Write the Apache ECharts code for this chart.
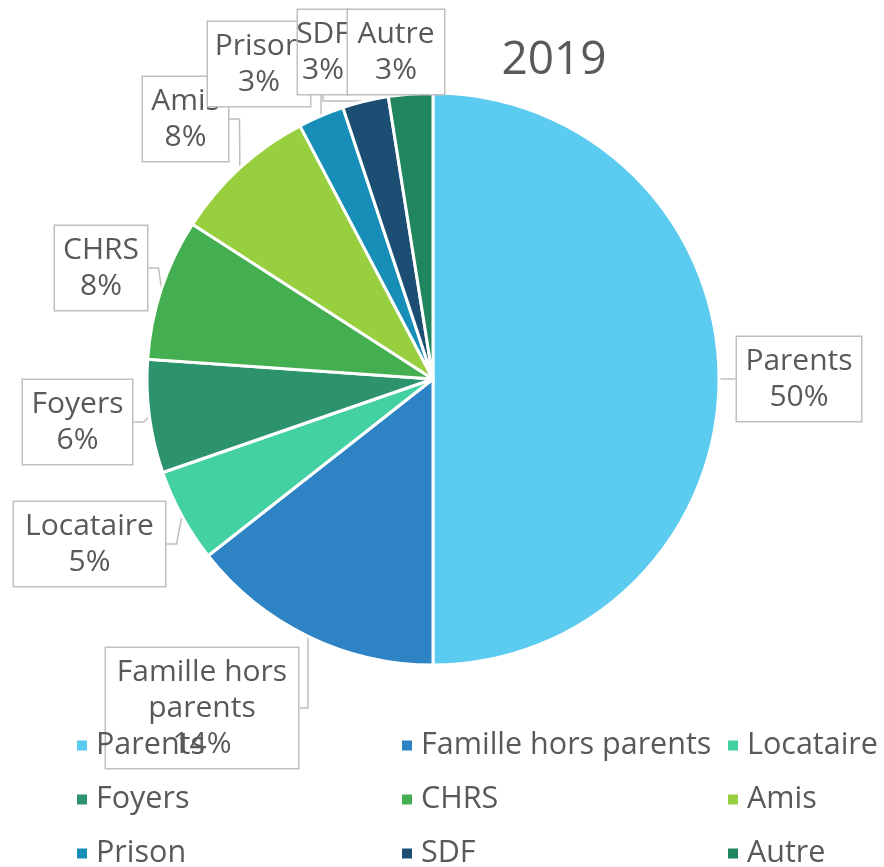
<!DOCTYPE html>
<html>
<head>
<meta charset="utf-8">
<script src="https://cdn.jsdelivr.net/npm/echarts@6/dist/echarts.min.js"></script>
<style>
  html, body { margin: 0; padding: 0; background: #fff; }
  #main { width: 884px; height: 867px; }
</style>
</head>
<body>
<div id="main"></div>
<script>
// data (percent shares)
const categories = ['Parents', 'Famille hors parents', 'Locataire', 'Foyers', 'CHRS', 'Amis', 'Prison', 'SDF', 'Autre'];
const values = [50.0, 14.4, 5.3, 6.4, 8.0, 8.2, 2.6, 2.6, 2.5];
const colors = ['#5BCBEF', '#2E83C4', '#43D1A4', '#2C936C', '#44AF51', '#98CF3E', '#168EB7', '#1C4E74', '#21855F'];

// callout boxes: [left, top, width] in px
const labelBoxes = [
  [737, 337, 124],
  [106, 648, 192],
  [14, 502, 151],
  [23, 380, 109],
  [55, 226, 92],
  [143, 77, 85],
  [208, 22, 102],
  [298, 10, 50],
  [348, 10, 96]
];

const textColor = '#595959';
const font = 'Open Sans';

let chart = echarts.init(document.getElementById('main'));

let pieData = categories.map((name, i) => ({
  name: name,
  value: values[i],
  itemStyle: { color: colors[i] },
  label: { width: labelBoxes[i][2] }
}));

function legendCol (names, left) {
  return {
    orient: 'vertical',
    left: left,
    top: 730,
    height: 200,
    padding: 0,
    itemGap: 23,
    itemWidth: 12,
    itemHeight: 12,
    icon: 'rect',
    data: names,
    textStyle: { color: textColor, fontSize: 30.5, fontFamily: font, lineHeight: 30, padding: [0, 0, 0, 3] }
  };
}

chart.setOption({
  animation: false,
  title: {
    text: '2019',
    left: 549,
    top: 33,
    textAlign: 'center',
    textStyle: { color: textColor, fontSize: 46, fontWeight: 'normal', fontFamily: font }
  },
  legend: [
    legendCol(['Parents', 'Foyers', 'Prison'], 75),
    legendCol(['Famille hors parents', 'CHRS', 'SDF'], 400),
    legendCol(['Locataire', 'Amis', 'Autre'], 726)
  ],
  series: [{
    type: 'pie',
    center: [433, 379],
    radius: 286,
    startAngle: 90,
    clockwise: true,
    avoidLabelOverlap: false,
    itemStyle: { borderColor: '#fff', borderWidth: 3 },
    label: {
      show: true,
      position: 'outside',
      formatter: p => (p.name === 'Famille hors parents' ? 'Famille hors\nparents' : p.name) + '\n' + Math.round(p.percent) + '%',
      color: textColor,
      fontSize: 30,
      lineHeight: 36,
      fontFamily: font,
      align: 'center',
      overflow: 'none',
      backgroundColor: '#fff',
      borderColor: '#BFBFBF',
      borderWidth: 1.5,
      padding: [6, 0]
    },
    labelLine: {
      show: true,
      length: 10,
      length2: 10,
      lineStyle: { color: '#BFBFBF', width: 1.5 }
    },
    labelLayout: params => {
      const b = labelBoxes[params.dataIndex];
      return { x: b[0] + b[2] / 2, y: b[1], align: 'center', verticalAlign: 'top' };
    },
    data: pieData
  }]
});
</script>
</body>
</html>
